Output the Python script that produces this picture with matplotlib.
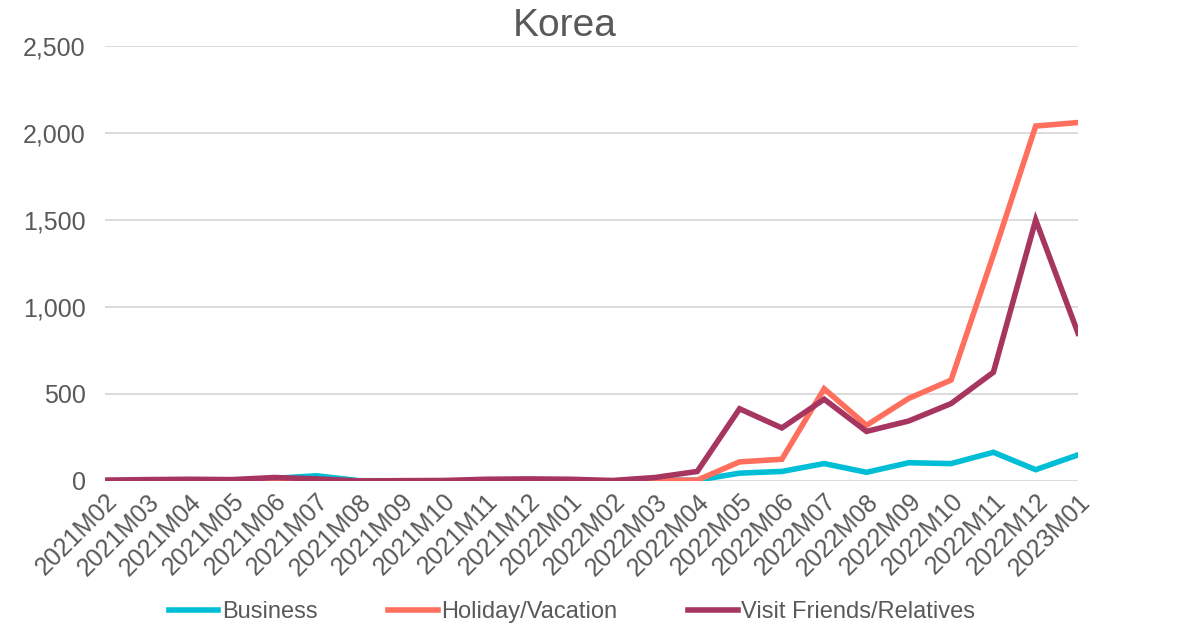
import matplotlib
matplotlib.use("Agg")
import matplotlib.pyplot as plt
from matplotlib.ticker import FuncFormatter

months = ["2021M02", "2021M03", "2021M04", "2021M05", "2021M06", "2021M07",
          "2021M08", "2021M09", "2021M10", "2021M11", "2021M12", "2022M01",
          "2022M02", "2022M03", "2022M04", "2022M05", "2022M06", "2022M07",
          "2022M08", "2022M09", "2022M10", "2022M11", "2022M12", "2023M01"]
business = [2, 2, 2, 3, 15, 30, 2, 1, 1, 2, 2, 2,
            1, 3, 5, 45, 55, 100, 50, 105, 100, 165, 65, 150]
holiday = [0, 0, 0, 0, 3, 5, 0, 0, 0, 2, 2, 2,
           0, 3, 5, 110, 125, 530, 320, 475, 580, 1300, 2040, 2060]
vfr = [5, 8, 10, 8, 20, 12, 0, 2, 3, 10, 12, 10,
       3, 20, 55, 415, 305, 470, 285, 345, 445, 625, 1500, 850]

yticks = [0, 500, 1000, 1500, 2000, 2500]

FONT = ["Liberation Sans", "DejaVu Sans"]
plt.rcParams["font.family"] = FONT

fig = plt.figure(figsize=(11.78, 6.29), dpi=100)
ax = fig.add_axes([105/1178, 1-481/629, (1078-105)/1178, (481-46)/629])

x = list(range(len(months)))
lw = 4.0
l1, = ax.plot(x, business, color="#00BED6", lw=lw, solid_joinstyle="miter", label="Business")
l2, = ax.plot(x, holiday, color="#FF6F5E", lw=lw, solid_joinstyle="miter", label="Holiday/Vacation")
l3, = ax.plot(x, vfr, color="#A6355F", lw=lw, solid_joinstyle="miter", label="Visit Friends/Relatives")

ax.set_xlim(0, len(months)-1)
ax.set_ylim(0, 2500)
ax.set_yticks(yticks)
ax.yaxis.set_major_formatter(FuncFormatter(lambda v, p: f"{int(v):,}"))
ax.grid(axis="y", color="#D9D9D9", lw=1.3)
ax.set_axisbelow(True)
for s in ax.spines.values():
    s.set_visible(False)
ax.tick_params(axis="y", length=0, pad=14, labelsize=18, labelcolor="#595959")
ax.set_xticks(x)
ax.set_xticklabels(months, rotation=45, ha="right", rotation_mode="anchor",
                   fontsize=18, color="#595959")
ax.tick_params(axis="x", length=0, pad=6)

fig.text(565/1178, 1-26/629, "Korea", ha="center", va="center",
         fontsize=28, color="#595959")

fig.legend(handles=[l1, l2, l3], loc="center", bbox_to_anchor=(572/1178, 1-612/629),
           ncol=3, frameon=False, handlelength=2.1, handletextpad=0.15,
           columnspacing=3.0, prop={"size": 17}, labelcolor="#595959")

fig.savefig("out.png", dpi=100)
